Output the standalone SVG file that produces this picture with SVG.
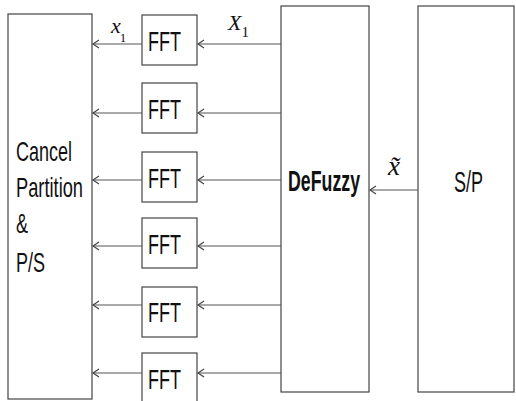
<svg xmlns="http://www.w3.org/2000/svg" width="516" height="401" viewBox="0 0 516 401">
<style>
.box{fill:#fff;stroke:#444;stroke-width:1.2}
.con{stroke:#555;stroke-width:1.2;fill:none;marker-end:url(#arr)}
.lbl{font-family:"Liberation Sans",Arial,sans-serif;fill:#111}
.fft{font-family:"Liberation Sans",Arial,sans-serif;font-size:28px;fill:#111}
.math{font-family:"Liberation Serif","Times New Roman",serif;font-style:italic;fill:#111}
.sub{font-style:normal}
</style>
<defs>
<marker id="arr" markerUnits="userSpaceOnUse" markerWidth="12" markerHeight="12" viewBox="-8 -6 10 12" refX="0" refY="0" orient="auto">
<path d="M-6,-4 L0,0 L-6,4" fill="none" stroke="#444" stroke-width="1.2"/>
</marker>
</defs>
<rect width="516" height="401" fill="#fff"/>
<g id="cancel">
<rect class="box" x="8" y="14" width="84" height="385"/>
<text class="lbl" font-size="28" x="16" y="161" textLength="56" lengthAdjust="spacingAndGlyphs">Cancel</text>
<text class="lbl" font-size="28" x="16" y="197" textLength="67" lengthAdjust="spacingAndGlyphs">Partition</text>
<text class="lbl" font-size="28" x="16" y="233" textLength="12" lengthAdjust="spacingAndGlyphs">&amp;</text>
<text class="lbl" font-size="28" x="16" y="272" textLength="29" lengthAdjust="spacingAndGlyphs">P/S</text>
</g>
<g id="fft1"><rect class="box" x="142" y="15" width="55" height="50"/><text class="fft" x="148" y="51" textLength="33" lengthAdjust="spacingAndGlyphs">FFT</text></g>
<g id="fft2"><rect class="box" x="142" y="83" width="55" height="50"/><text class="fft" x="148" y="119" textLength="33" lengthAdjust="spacingAndGlyphs">FFT</text></g>
<g id="fft3"><rect class="box" x="142" y="152" width="55" height="50"/><text class="fft" x="148" y="188" textLength="33" lengthAdjust="spacingAndGlyphs">FFT</text></g>
<g id="fft4"><rect class="box" x="142" y="218" width="55" height="50"/><text class="fft" x="148" y="254" textLength="33" lengthAdjust="spacingAndGlyphs">FFT</text></g>
<g id="fft5"><rect class="box" x="142" y="287" width="55" height="50"/><text class="fft" x="148" y="322" textLength="33" lengthAdjust="spacingAndGlyphs">FFT</text></g>
<g id="fft6"><rect class="box" x="142" y="353" width="55" height="50"/><text class="fft" x="148" y="389" textLength="33" lengthAdjust="spacingAndGlyphs">FFT</text></g>
<g id="defuzzy">
<rect class="box" x="281" y="6" width="88" height="386"/>
<text class="lbl" font-size="30" font-weight="bold" x="288" y="191" textLength="72" lengthAdjust="spacingAndGlyphs">DeFuzzy</text>
</g>
<g id="sp">
<rect class="box" x="418" y="6" width="96" height="386"/>
<text class="lbl" font-size="30" x="454" y="192" textLength="29" lengthAdjust="spacingAndGlyphs">S/P</text>
</g>
<g id="connectors">
<line class="con" x1="281" y1="44" x2="198" y2="44"/>
<line class="con" x1="281" y1="113" x2="198" y2="113"/>
<line class="con" x1="281" y1="180" x2="198" y2="180"/>
<line class="con" x1="281" y1="246" x2="198" y2="246"/>
<line class="con" x1="281" y1="305" x2="198" y2="305"/>
<line class="con" x1="281" y1="373" x2="198" y2="373"/>
<line class="con" x1="142" y1="44" x2="93" y2="44"/>
<line class="con" x1="142" y1="113" x2="93" y2="113"/>
<line class="con" x1="142" y1="180" x2="93" y2="180"/>
<line class="con" x1="142" y1="246" x2="93" y2="246"/>
<line class="con" x1="142" y1="305" x2="93" y2="305"/>
<line class="con" x1="142" y1="373" x2="93" y2="373"/>
<line class="con" x1="418" y1="190" x2="370" y2="190"/>
<text class="math" font-size="22" x="111" y="33">x<tspan class="sub" font-size="13" dx="-1" dy="9">1</tspan></text>
<text class="math" font-size="22" x="228" y="30">X<tspan class="sub" font-size="15" dx="0" dy="7">1</tspan></text>
<text class="math" font-size="28" x="388" y="175" textLength="12" lengthAdjust="spacingAndGlyphs">x̃</text>
</g>
</svg>
